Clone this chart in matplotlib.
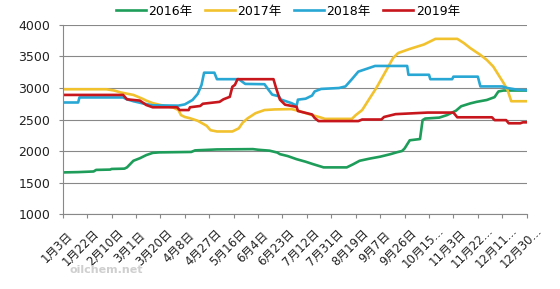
import matplotlib.pyplot as plt
from matplotlib.transforms import ScaledTranslation

plt.rcParams['font.family'] = ['DejaVu Sans', 'Noto Sans CJK SC']

# day offsets from 1月3日, and prices
d2016 = [0, 12, 18, 24, 26, 37, 38, 48, 50, 55, 60, 65, 70, 75, 100, 103, 120, 148, 152,
         161, 167, 169, 175, 182, 189, 195, 203, 221, 226, 231, 239, 247, 255, 260, 264,
         266, 270, 278, 280, 282, 293, 299, 306, 310, 317, 322, 330, 336, 339, 343, 361]
v2016 = [1660, 1665, 1670, 1675, 1700, 1705, 1715, 1720, 1740, 1845, 1885, 1935, 1970, 1978,
         1985, 2010, 2025, 2030, 2020, 2005, 1975, 1950, 1920, 1870, 1830, 1790, 1740, 1740,
         1790, 1845, 1880, 1910, 1950, 1980, 2000, 2040, 2170, 2190, 2490, 2515, 2530, 2570,
         2640, 2710, 2755, 2780, 2810, 2855, 2945, 2960, 2960]

d2017 = [0, 34, 40, 45, 55, 62, 65, 70, 76, 86, 90, 92, 95, 99, 105, 112, 115, 120, 132,
         137, 140, 144, 150, 157, 165, 178, 183, 194, 201, 204, 225, 228, 233, 238, 244, 252,
         257, 261, 270, 281, 286, 290, 307, 312, 317, 325, 330, 335, 339, 343, 346, 349, 361]
v2017 = [2980, 2980, 2960, 2930, 2890, 2830, 2800, 2760, 2730, 2690, 2650, 2570, 2540, 2520,
         2480, 2400, 2330, 2310, 2310, 2360, 2450, 2520, 2600, 2650, 2660, 2665, 2640, 2570,
         2530, 2510, 2510, 2570, 2650, 2810, 3000, 3290, 3475, 3555, 3620, 3690, 3740, 3780,
         3780, 3715, 3635, 3525, 3445, 3340, 3210, 3080, 2975, 2790, 2790]

d2018 = [0, 12, 13, 47, 50, 55, 62, 70, 90, 95, 101, 105, 108, 110, 118, 120, 137, 142, 157,
         160, 163, 168, 170, 178, 182, 183, 189, 194, 196, 201, 215, 220, 225, 230, 238, 243,
         268, 269, 285, 286, 303, 304, 323, 325, 342, 346, 353, 361]
v2018 = [2770, 2770, 2850, 2850, 2820, 2790, 2757, 2725, 2720, 2740, 2810, 2905, 3048, 3243,
         3243, 3140, 3140, 3065, 3060, 2975, 2895, 2870, 2815, 2760, 2720, 2815, 2830, 2880,
         2945, 2985, 3000, 3025, 3140, 3260, 3315, 3350, 3350, 3210, 3210, 3140, 3140, 3180,
         3180, 3025, 3025, 3000, 2975, 2965]

d2019 = [0, 47, 50, 60, 65, 70, 89, 91, 98, 99, 107, 109, 122, 125, 130, 132, 134, 136, 164,
         166, 169, 173, 182, 183, 194, 196, 199, 230, 233, 248, 250, 259, 284, 304, 307, 334,
         336, 345, 347, 356, 358, 361]
v2019 = [2890, 2890, 2820, 2800, 2730, 2694, 2694, 2650, 2650, 2694, 2715, 2750, 2780, 2820,
         2860, 3020, 3050, 3140, 3140, 3000, 2815, 2735, 2700, 2635, 2580, 2525, 2475, 2475,
         2500, 2500, 2540, 2585, 2610, 2610, 2535, 2535, 2490, 2490, 2440, 2440, 2455, 2455]

tick_days = list(range(0, 362, 19))
tick_labels = ['1月3日', '1月22日', '2月10日', '3月1日', '3月20日', '4月8日', '4月27日',
               '5月16日', '6月4日', '6月23日', '7月12日', '7月31日', '8月19日', '9月7日',
               '9月26日', '10月15...', '11月3日', '11月22...', '12月11...', '12月30...']

fig = plt.figure(figsize=(5.6, 2.89), dpi=100)
ax = fig.add_axes([0.112, 0.2595, 0.8285, 0.654])

lw = 1.9
ax.plot(d2016, v2016, color='#1e9d5a', lw=lw, label='2016年')
ax.plot(d2017, v2017, color='#f2c12e', lw=lw, label='2017年')
ax.plot(d2018, v2018, color='#29a7d4', lw=lw, label='2018年')
ax.plot(d2019, v2019, color='#c8161d', lw=lw, label='2019年')

ax.set_xlim(0, 361)
ax.set_ylim(1000, 4000)
ax.set_yticks(range(1000, 4001, 500))
ax.grid(axis='y', color='#888888', lw=0.8)
ax.set_axisbelow(True)
for s in ['top', 'right']:
    ax.spines[s].set_visible(False)
for s in ['left', 'bottom']:
    ax.spines[s].set_color('#888888')
    ax.spines[s].set_linewidth(0.8)

ax.tick_params(axis='y', length=3, width=0.8, color='#888888', pad=6, labelsize=9,
               labelcolor='#222222')
ax.tick_params(axis='x', length=3, width=0.8, color='#888888', pad=21, labelsize=8.5,
               labelcolor='#222222')
ax.set_xticks(tick_days)
ax.set_xticklabels(tick_labels, rotation=45, ha='center', va='center',
                   rotation_mode='anchor')
for lab in ax.get_xticklabels():
    lab.set_transform(lab.get_transform() + ScaledTranslation(-0.06, 0, fig.dpi_scale_trans))

ax.legend(loc='center', bbox_to_anchor=(0.485, 1.074), ncol=4, frameon=False,
          fontsize=9, handlelength=2.4, handletextpad=0.2, columnspacing=1.0,
          borderaxespad=0, borderpad=0)

fig.text(0.19, 0.055, 'oilchem.net', color='#cfcfcf', fontsize=8, ha='center',
         fontweight='bold')

fig.savefig('out.png', dpi=100)
